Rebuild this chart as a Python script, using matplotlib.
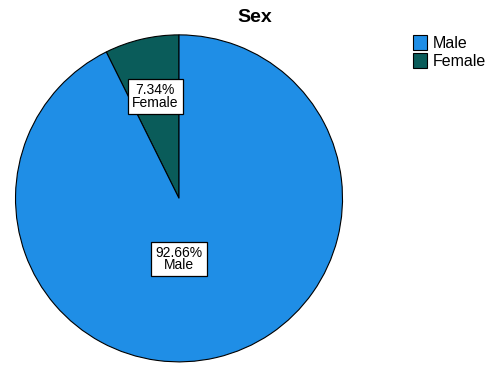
import numpy as np
import matplotlib.pyplot as plt
from matplotlib.patches import Patch

plt.rcParams['font.family'] = ['Liberation Sans', 'DejaVu Sans']

labels = ['Male', 'Female']
shares = [92.66, 7.34]
colors = ['#1f8ee6', '#0a5c5a']

fig = plt.figure(figsize=(4.97, 3.75), dpi=100)
ax = fig.add_axes([0.0302, 0.035, 0.66, 0.872])

# SPSS draws the smaller slice first from 12 o'clock, counterclockwise
order = [1, 0]
wedges, _ = ax.pie([shares[i] for i in order], colors=[colors[i] for i in order],
                   startangle=90, counterclock=True,
                   wedgeprops=dict(edgecolor='black', linewidth=0.8))
ax.set_xlim(-1, 1)
ax.set_ylim(-1, 1)
ax.set_aspect('equal')

dist = {'Female': 0.64, 'Male': 0.37}
for w, i in zip(wedges, order):
    name = labels[i]
    mid = np.deg2rad((w.theta1 + w.theta2) / 2) if name == 'Female' else np.deg2rad(270)
    r = dist[name]
    ax.text(r * np.cos(mid), r * np.sin(mid), f'{shares[i]:.2f}%\n{name}',
            ha='center', va='center', fontsize=10, linespacing=0.85,
            bbox=dict(boxstyle='square,pad=0.3', fc='white', ec='black', lw=0.9))

fig.text(255 / 497, 1 - 18 / 375, 'Sex', ha='center', va='center',
         fontsize=14, fontweight='bold')

handles = [Patch(facecolor=c, edgecolor='black', lw=0.8) for c in colors]
fig.legend(handles, labels, loc='upper left', bbox_to_anchor=(413 / 497, 1 - 35 / 375),
           frameon=False, fontsize=11.5, handlelength=0.9, handleheight=1.05,
           handletextpad=0.35, labelspacing=0.15, borderaxespad=0, borderpad=0)

fig.savefig('out.png', dpi=100)
